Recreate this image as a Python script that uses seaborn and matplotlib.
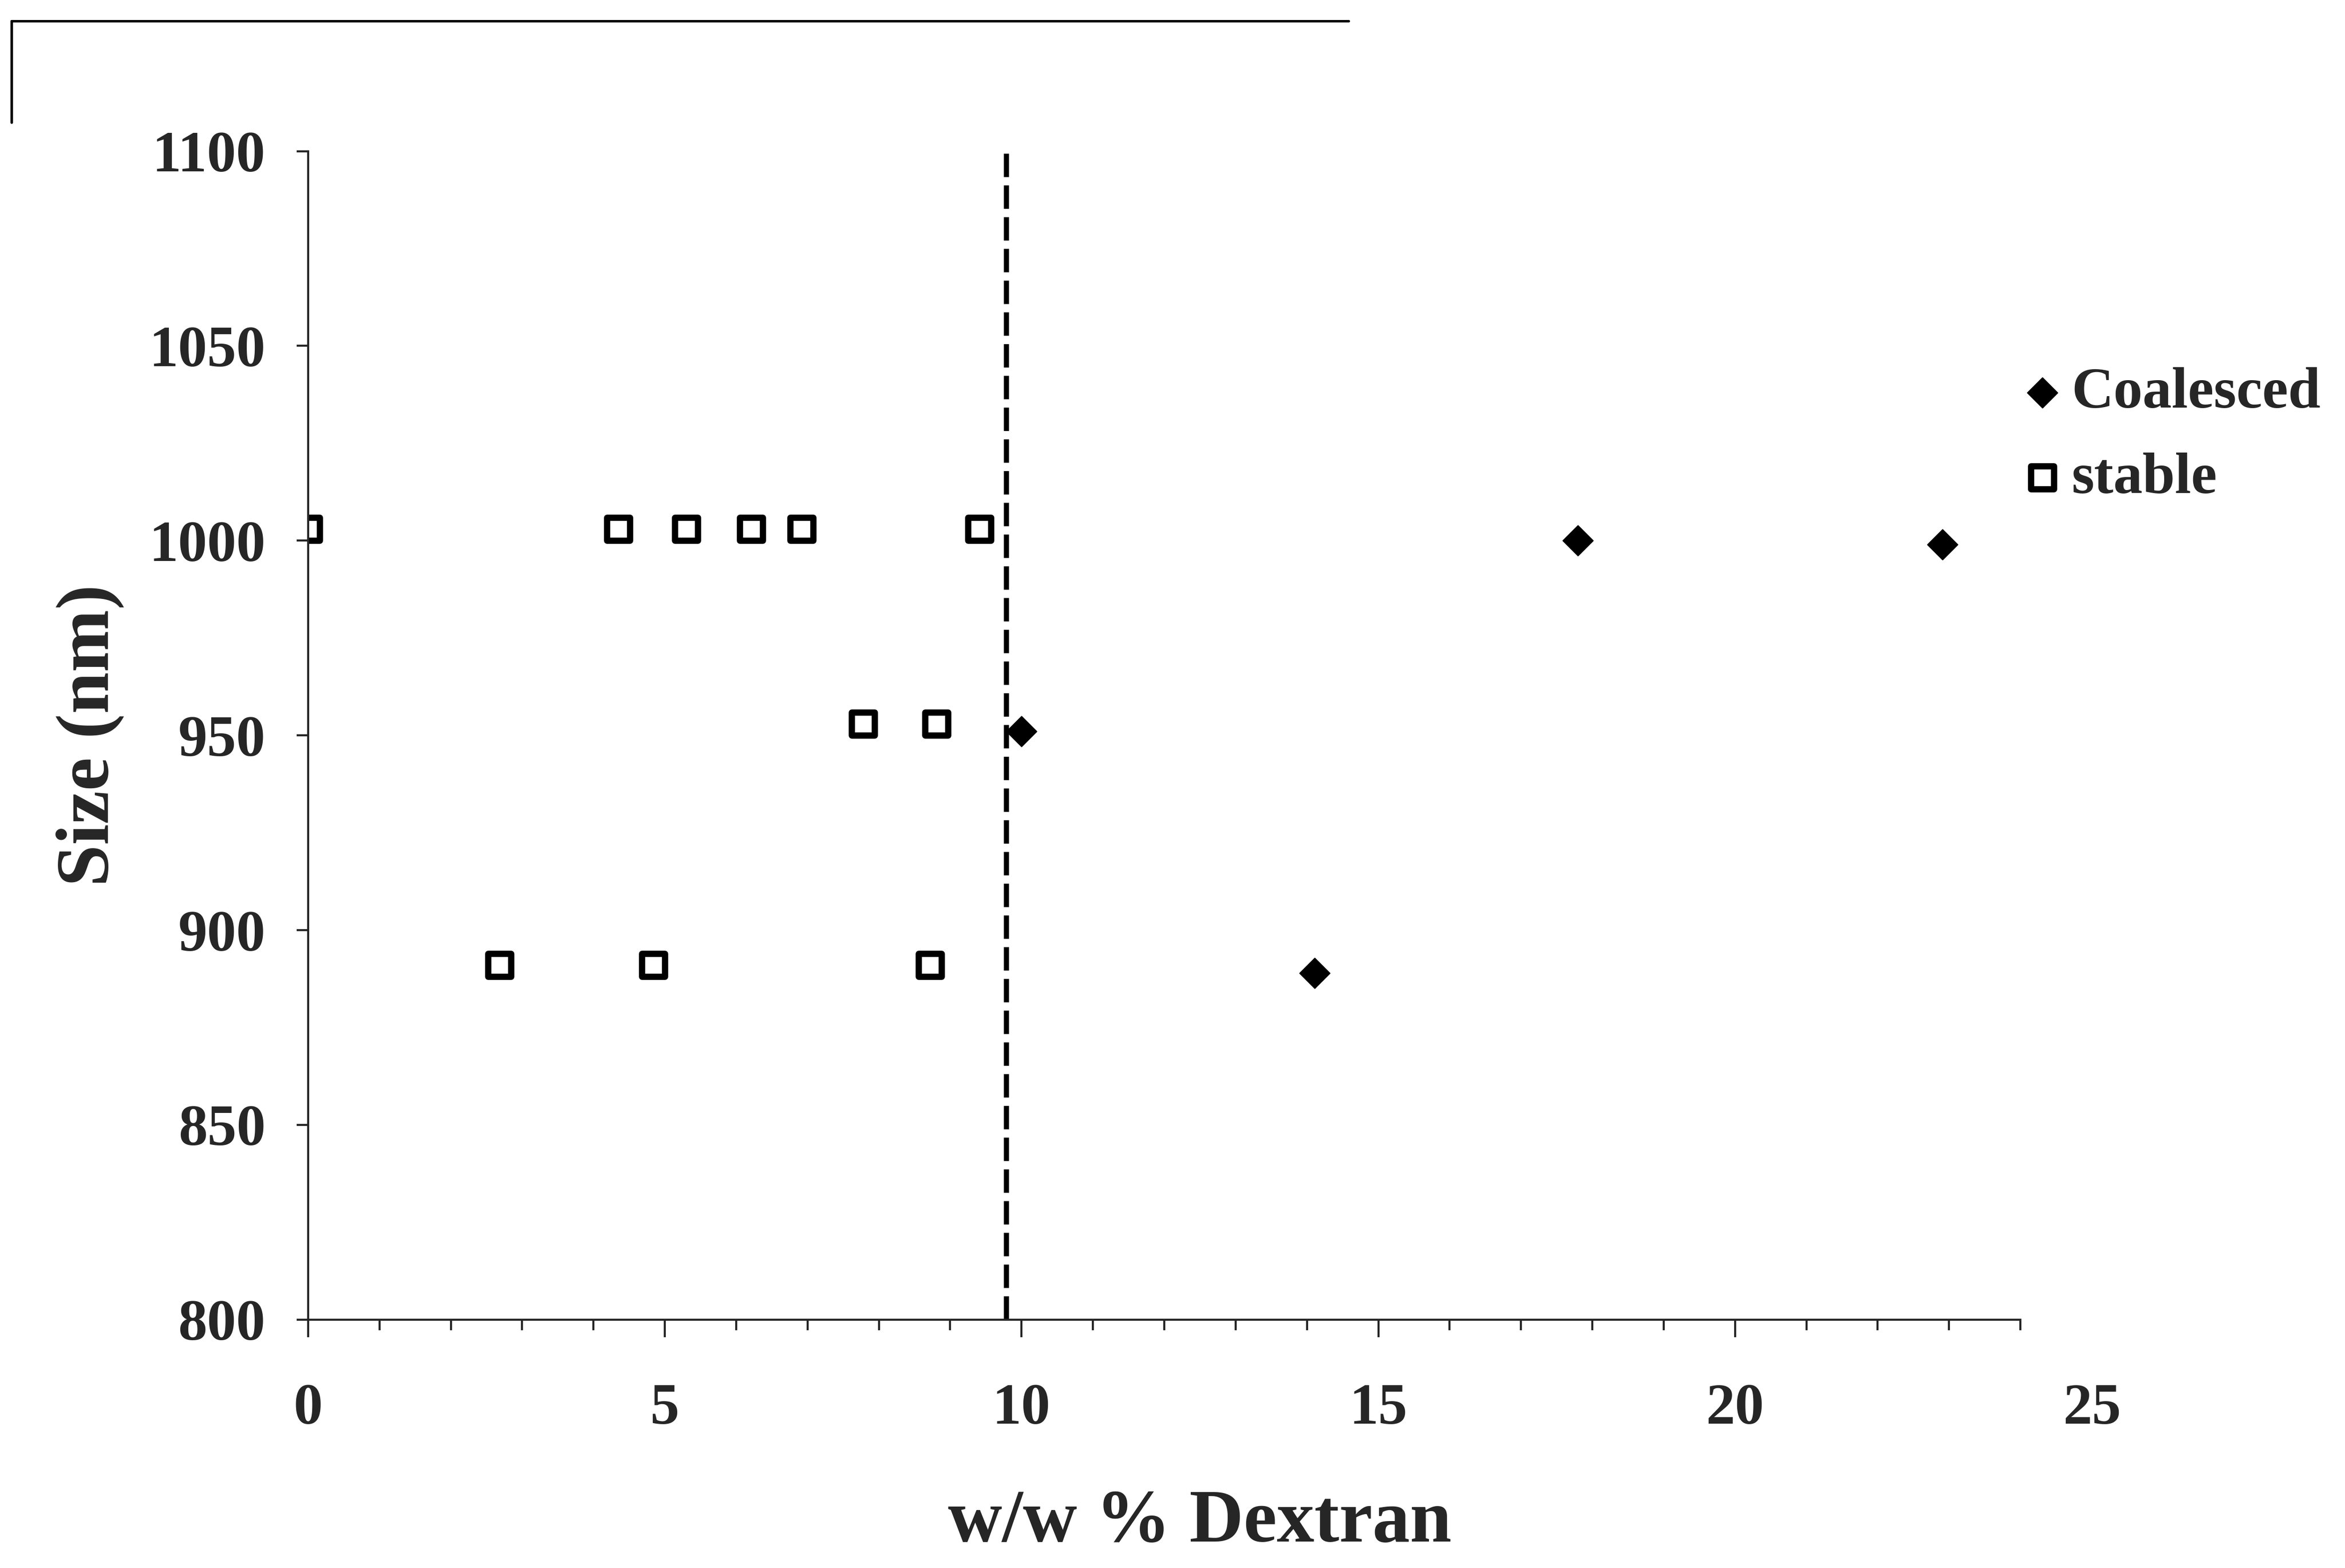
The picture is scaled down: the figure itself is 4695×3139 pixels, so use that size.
import numpy as np
import pandas as pd
import matplotlib
matplotlib.use("Agg")
import matplotlib.pyplot as plt
from matplotlib.lines import Line2D
from matplotlib.ticker import FixedLocator
import seaborn as sns

# values
stable_x = [0, 2.68, 4.35, 4.84, 5.30, 6.21, 6.92, 7.78, 8.72, 8.81, 9.41]
stable_y = [1003, 891, 1003, 891, 1003, 1003, 1003, 953, 891, 953, 1003]
coal_x = [10.0, 14.11, 17.8, 22.91]
coal_y = [951, 889, 1000, 999]
cutoff_x = 9.79
x_ticks = [0, 5, 10, 15, 20, 25]
x_minor = [i for i in range(1, 25) if i % 5 != 0]
y_ticks = [800, 850, 900, 950, 1000, 1050, 1100]

stable = pd.DataFrame({"x": stable_x, "y": stable_y})
coal = pd.DataFrame({"x": coal_x, "y": coal_y})

sns.set_style("ticks")
plt.rcParams["font.family"] = ["Liberation Serif", "DejaVu Serif"]
plt.rcParams["font.weight"] = "bold"

fig = plt.figure(figsize=(4695 / 300, 3139 / 300), dpi=300)
ax = fig.add_axes([0.1314, 0.1584, 0.892 - 0.1314, 0.9036 - 0.1584])

sns.scatterplot(data=coal, x="x", y="y", ax=ax, marker="D", s=105,
                color="black", edgecolor="black", linewidth=0.5, label="Coalesced")
sns.scatterplot(data=stable, x="x", y="y", ax=ax, marker="s", s=120,
                color="white", edgecolor="black", linewidth=3, label="stable")
ax.plot([cutoff_x, cutoff_x], [y_ticks[0], y_ticks[-1]], color="black",
        linewidth=2.5, dashes=(4.5, 1.6), zorder=1)

ax.set_xlim(0, 25)
ax.set_ylim(800, 1100)
ax.xaxis.set_major_locator(FixedLocator(x_ticks))
ax.xaxis.set_minor_locator(FixedLocator(x_minor))
ax.set_yticks(y_ticks)
ax.set_xticklabels([str(t) for t in x_ticks], fontsize=28, fontweight="bold")
ax.set_yticklabels([str(t) for t in y_ticks], fontsize=28, fontweight="bold")
ax.tick_params(axis="x", which="major", length=8.5, width=1.0, pad=22, direction="out")
ax.tick_params(axis="x", which="minor", length=5, width=1.0, direction="out")
ax.tick_params(axis="y", which="major", length=5.5, width=1.0, pad=15, direction="out")
ax.xaxis.get_major_ticks()[-1].tick1line.set_visible(False)

sns.despine(ax=ax)
ax.spines["bottom"].set_bounds(0, 24)
for sp in ("left", "bottom"):
    ax.spines[sp].set_linewidth(1.0)

ax.set_xlabel("w/w % Dextran", fontsize=36, fontweight="bold")
ax.set_ylabel("Size (nm)", fontsize=36, fontweight="bold")
ax.xaxis.set_label_coords(0.5, -0.145)
ax.yaxis.set_label_coords(-0.103, 0.5)

ax.legend(loc="upper left", bbox_to_anchor=(0.8635, 0.766),
          bbox_transform=fig.transFigure, frameon=False,
          handlelength=0.6, handletextpad=0.2, labelspacing=0.55, borderpad=0,
          borderaxespad=0, prop={"size": 28, "weight": "bold"})

# remnants of the scanned frame
fig.add_artist(Line2D([0.005, 0.575], [0.9866, 0.9866], color="black", linewidth=1.2,
                      transform=fig.transFigure))
fig.add_artist(Line2D([0.005, 0.005], [0.9866, 0.922], color="black", linewidth=1.2,
                      transform=fig.transFigure))

fig.savefig("out.png", dpi=300, facecolor="white")
plt.close(fig)
